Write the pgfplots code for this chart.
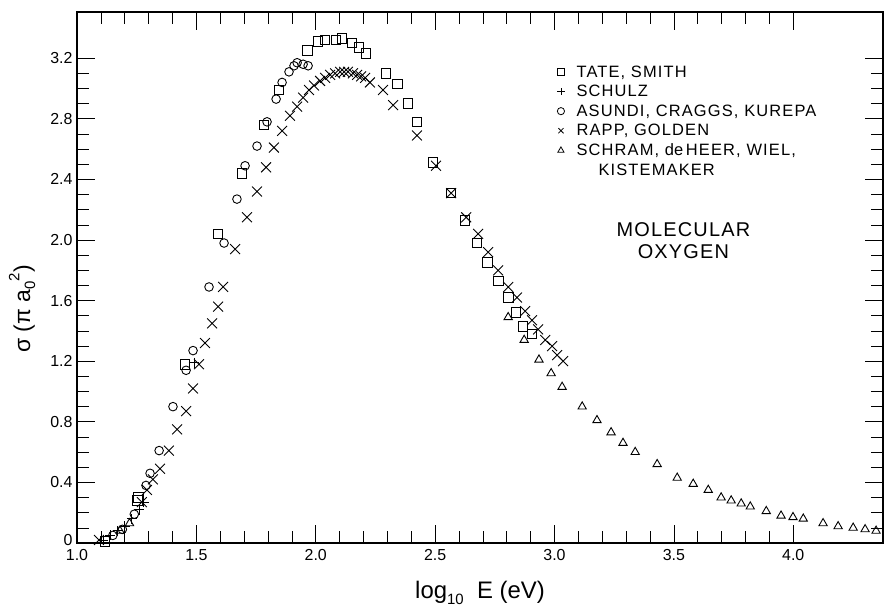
\documentclass[border=0pt]{standalone}
\usepackage{fontspec}
\setmainfont{Liberation Sans}
\newfontfamily\legfont[LetterSpace=7]{Liberation Sans}
\newfontfamily\titfont[LetterSpace=6]{Liberation Sans}
\usepackage{pgfplots}
\pgfplotsset{compat=1.18}
\begin{document}
\begin{tikzpicture}
\begin{axis}[
  at={(0,0)}, anchor=south west,
  scale only axis, width=806bp, height=531bp,
  xmin=1.0, xmax=4.376, ymin=0, ymax=3.505,
  axis line style={line width=1.1pt},
  tick align=inside,
  major tick length=18bp, minor tick length=12bp,
  every tick/.style={black, line width=0.7pt},
  xtick={1.0,1.5,2.0,2.5,3.0,3.5,4.0},
  xticklabels={1.0,1.5,2.0,2.5,3.0,3.5,4.0},
  ytick={0,0.4,0.8,1.2,1.6,2.0,2.4,2.8,3.2},
  yticklabels={\raisebox{6bp}{0},0.4,0.8,1.2,1.6,2.0,2.4,2.8,3.2},
  minor x tick num=4, minor y tick num=3,
  ticklabel style={font=\fontsize{16}{18}\selectfont},
  xticklabel style={yshift=-3bp},
  yticklabel style={xshift=-1bp},
  xlabel={log\raisebox{-0.45ex}{\fontsize{15}{16}\selectfont 10}\ \ E\ (eV)},
  xlabel style={at={(rel axis cs:0.5,0)}, anchor=center, yshift=-50bp, font=\fontsize{24}{26}\selectfont},
  ylabel={σ (π a\raisebox{-0.4ex}{\fontsize{15}{16}\selectfont 0}\raisebox{0.9ex}{\fontsize{15}{16}\selectfont 2})},
  ylabel style={at={(rel axis cs:0,0.441)}, anchor=center, yshift=55bp, font=\fontsize{23}{25}\selectfont},
  legend style={draw=none, fill=none, at={(rel axis cs:0.592,0.907)}, anchor=north west,
    font=\legfont\fontsize{16.5}{18}\selectfont, row sep=2.6bp,
    /tikz/every odd column/.append style={column sep=10bp}},
  legend cell align=left,
  legend image code/.code={\draw[#1, mark size=3.6bp, line width=0.8pt] plot coordinates {(0bp,0bp)};},
  clip=false,
]
% TATE, SMITH
\addplot[only marks, mark=square, mark size=4.8bp, line width=0.9pt] coordinates {
(1.117,0.01) (1.252,0.28) (1.258,0.30) (1.452,1.18) (1.591,2.04) (1.691,2.44) (1.783,2.76)
(1.846,2.99) (1.964,3.25) (2.010,3.31) (2.039,3.32) (2.085,3.32) (2.110,3.33)
(2.152,3.30) (2.181,3.27) (2.211,3.23) (2.294,3.10) (2.341,3.03) (2.387,2.90)
(2.424,2.78) (2.491,2.51) (2.567,2.31) (2.625,2.13) (2.676,1.98) (2.718,1.85)
(2.764,1.73) (2.806,1.62) (2.839,1.52) (2.868,1.43) (2.906,1.38)
};
\addlegendentry{TATE, SMITH}
% SCHULZ
\addplot[only marks, mark=+, mark size=5bp, line width=0.9pt] coordinates {
(1.11,0.02) (1.14,0.05) (1.17,0.08) (1.20,0.11) (1.23,0.16) (1.26,0.22) (1.28,0.27) (1.49,1.19)
};
\addlegendentry{SCHULZ}
% ASUNDI, CRAGGS, KUREPA
\addplot[only marks, mark=o, mark size=4.3bp, line width=0.9pt] coordinates {
(1.15,0.05) (1.19,0.09) (1.24,0.19) (1.289,0.38) (1.306,0.46) (1.344,0.61) (1.402,0.90)
(1.457,1.14) (1.486,1.27) (1.553,1.69) (1.616,1.98) (1.670,2.27) (1.704,2.49)
(1.754,2.62) (1.796,2.78) (1.834,2.93) (1.859,3.04) (1.888,3.11) (1.909,3.15)
(1.922,3.17) (1.947,3.16) (1.968,3.15)
};
\addlegendentry{ASUNDI, CRAGGS, KUREPA}
% RAPP, GOLDEN
\addplot[only marks, mark=x, mark size=7bp, line width=0.9pt] coordinates {
(1.092,0.02) (1.272,0.27) (1.293,0.35) (1.318,0.42) (1.348,0.49) (1.385,0.61)
(1.419,0.75) (1.457,0.87) (1.486,1.02) (1.511,1.18) (1.536,1.32) (1.566,1.45)
(1.591,1.56) (1.612,1.69) (1.662,1.94) (1.712,2.15) (1.754,2.32) (1.792,2.48)
(1.825,2.61) (1.859,2.72) (1.892,2.82) (1.922,2.88) (1.947,2.94) (1.972,2.99)
(1.993,3.02) (2.018,3.05) (2.039,3.07) (2.060,3.09) (2.081,3.10) (2.102,3.11)
(2.119,3.11) (2.135,3.11) (2.156,3.10) (2.173,3.09) (2.190,3.08) (2.207,3.07)
(2.227,3.04) (2.282,2.99) (2.324,2.89) (2.424,2.69) (2.504,2.49) (2.567,2.31)
(2.630,2.15) (2.680,2.04) (2.722,1.92) (2.764,1.80) (2.806,1.69) (2.843,1.62)
(2.877,1.53) (2.906,1.47) (2.931,1.41) (2.961,1.34) (2.990,1.30) (3.011,1.24) (3.036,1.20)
};
\addlegendentry{RAPP, GOLDEN}
% SCHRAM, de HEER, WIEL, KISTEMAKER
\addplot[only marks, mark=triangle, mark size=4.8bp, line width=0.9pt] coordinates {
(1.18,0.08) (1.22,0.13) (2.806,1.49) (2.873,1.34) (2.935,1.21) (2.986,1.12)
(3.032,1.03) (3.116,0.90) (3.178,0.81) (3.237,0.73) (3.287,0.66) (3.338,0.60)
(3.430,0.52) (3.514,0.43) (3.581,0.39) (3.644,0.35) (3.698,0.30) (3.740,0.28)
(3.782,0.26) (3.820,0.24) (3.887,0.21) (3.949,0.18) (3.999,0.17) (4.042,0.16)
(4.125,0.13) (4.188,0.11) (4.251,0.10) (4.301,0.09) (4.347,0.08)
};
\addlegendentry{SCHRAM, {\addfontfeature{LetterSpace=0}de}\,HEER, WIEL,}
\addlegendimage{empty legend}
\addlegendentry{\hspace*{22bp}KISTEMAKER}
\node[align=center, font=\titfont\fontsize{20}{23}\selectfont] at (axis cs:3.54,1.996) {MOLECULAR\\OXYGEN};
\end{axis}
\pgfresetboundingbox
\path (-77bp,-67bp) rectangle (808bp,543bp);
\end{tikzpicture}
\end{document}
